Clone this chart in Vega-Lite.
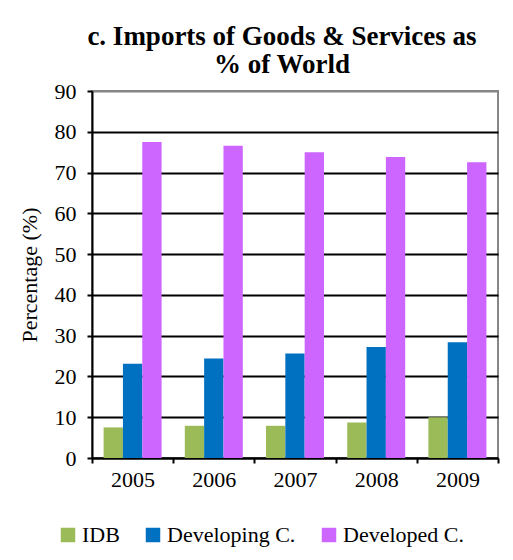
{
  "$schema": "https://vega.github.io/schema/vega-lite/v6.json",
  "autosize": "none",
  "width": 406,
  "height": 367,
  "padding": {"left": 92, "top": 91, "right": 15, "bottom": 102},
  "background": "white",
  "title": {
    "text": ["c. Imports of Goods & Services as", "% of World"],
    "font": "Liberation Serif",
    "fontSize": 27,
    "fontWeight": "bold",
    "color": "black",
    "anchor": "middle",
    "dx": -13,
    "lineHeight": 28,
    "offset": 1
  },
  "data": {
    "values": [
      {"year": "2005", "group": "IDB", "value": 7.5},
      {"year": "2005", "group": "Developing C.", "value": 23.1},
      {"year": "2005", "group": "Developed C.", "value": 77.5},
      {"year": "2006", "group": "IDB", "value": 7.9},
      {"year": "2006", "group": "Developing C.", "value": 24.4},
      {"year": "2006", "group": "Developed C.", "value": 76.6},
      {"year": "2007", "group": "IDB", "value": 7.9},
      {"year": "2007", "group": "Developing C.", "value": 25.6},
      {"year": "2007", "group": "Developed C.", "value": 75.0},
      {"year": "2008", "group": "IDB", "value": 8.7},
      {"year": "2008", "group": "Developing C.", "value": 27.2},
      {"year": "2008", "group": "Developed C.", "value": 73.8},
      {"year": "2009", "group": "IDB", "value": 10.0},
      {"year": "2009", "group": "Developing C.", "value": 28.4},
      {"year": "2009", "group": "Developed C.", "value": 72.5}
    ]
  },
  "mark": {"type": "bar"},
  "encoding": {
    "x": {
      "field": "year",
      "type": "nominal",
      "scale": {"paddingInner": 0, "paddingOuter": 0},
      "axis": {
        "title": null,
        "labelAngle": 0,
        "tickBand": "extent",
        "domainColor": "black",
        "domainWidth": 2,
        "tickColor": "black",
        "tickWidth": 2,
        "tickSize": 5,
        "labelFont": "Liberation Serif",
        "labelFontSize": 22,
        "labelColor": "black",
        "labelPadding": 6
      }
    },
    "xOffset": {
      "field": "group",
      "type": "nominal",
      "sort": ["IDB", "Developing C.", "Developed C."],
      "scale": {"paddingInner": 0, "paddingOuter": 0.6}
    },
    "y": {
      "field": "value",
      "type": "quantitative",
      "scale": {"domain": [0, 90], "nice": false},
      "axis": {
        "title": "Percentage (%)",
        "values": [0, 10, 20, 30, 40, 50, 60, 70, 80, 90],
        "grid": true,
        "gridColor": {"condition": {"test": "datum.value == 90", "value": "#868686"}, "value": "black"},
        "gridWidth": 2,
        "gridOpacity": 1,
        "domainColor": "black",
        "domainWidth": 2,
        "tickColor": "black",
        "tickWidth": 2,
        "tickSize": 5,
        "labelFont": "Liberation Serif",
        "labelFontSize": 22,
        "labelColor": "black",
        "labelPadding": 11,
        "titleFont": "Liberation Serif",
        "titleFontSize": 22,
        "titleFontWeight": "normal",
        "titleColor": "black",
        "titlePadding": 13
      }
    },
    "color": {
      "field": "group",
      "type": "nominal",
      "sort": ["IDB", "Developing C.", "Developed C."],
      "scale": {"domain": ["IDB", "Developing C.", "Developed C."], "range": ["#9BBB59", "#0070C0", "#CC66FF"]},
      "legend": {
        "title": null,
        "orient": "none",
        "legendX": -35,
        "legendY": 433,
        "direction": "horizontal",
        "symbolType": "square",
        "symbolSize": 210,
        "symbolStrokeWidth": 0,
        "symbolOpacity": 1,
        "labelFont": "Liberation Serif",
        "labelFontSize": 22,
        "labelColor": "black",
        "labelOffset": 3,
        "columnPadding": 22
      }
    }
  },
  "config": {
    "font": "Liberation Serif",
    "axis": {"labelFont": "Liberation Serif", "titleFont": "Liberation Serif"},
    "legend": {"labelFont": "Liberation Serif"},
    "view": {"stroke": "#868686", "strokeWidth": 2}
  }
}
